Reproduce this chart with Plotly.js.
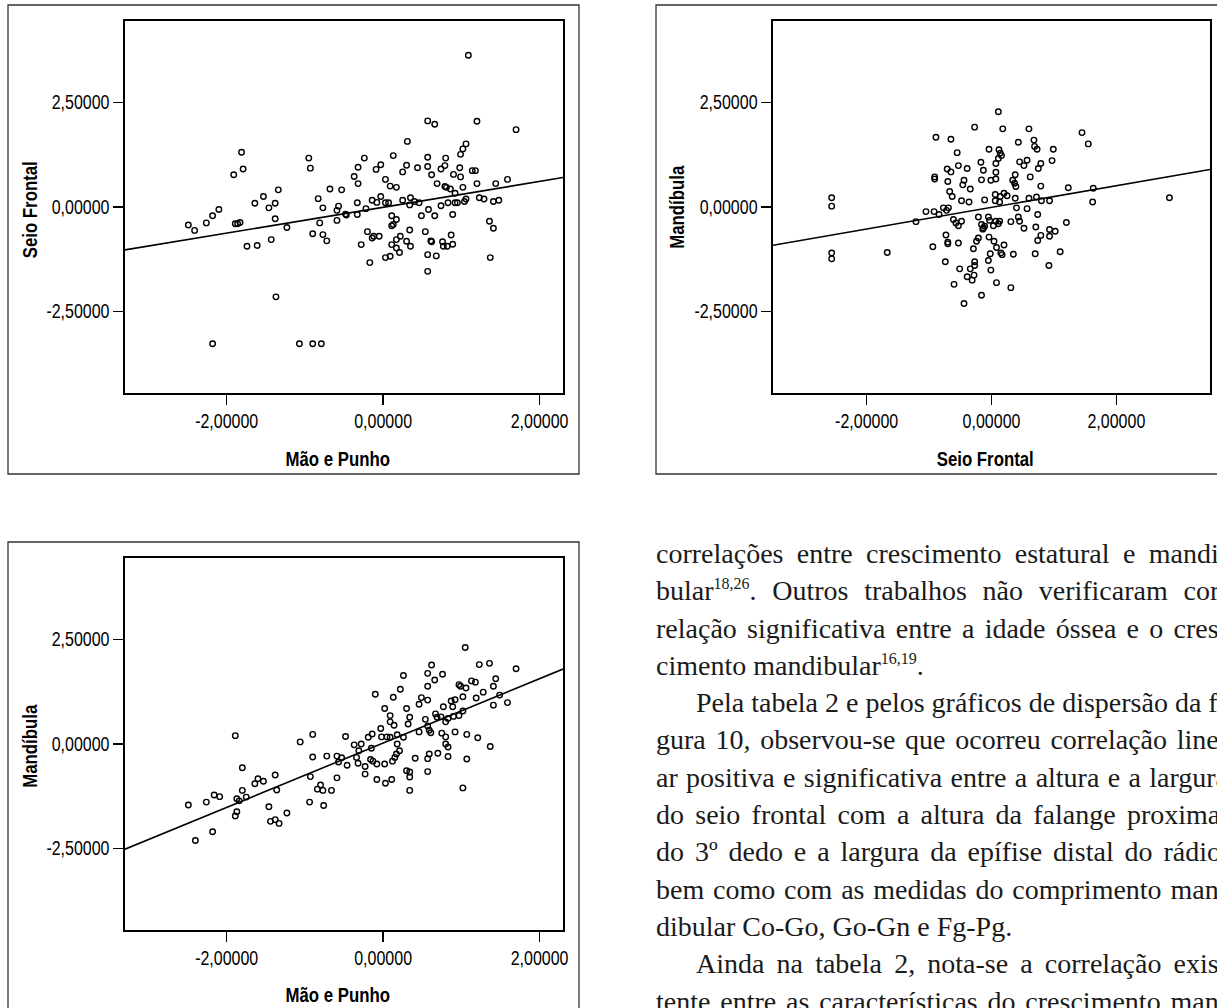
<!DOCTYPE html>
<html>
<head>
<meta charset="utf-8">
<script src="https://cdn.plot.ly/plotly-3.0.1.min.js"></script>
<style>
  html, body { margin: 0; padding: 0; background: #fff; }
  #wrap { position: relative; width: 1217px; height: 1008px; overflow: hidden; }
  #chart { position: absolute; left: 0; top: 0; width: 1217px; height: 1008px; }
  #text { position: absolute; left: 656px; top: 535px; width: 572px;
          font-family: 'Liberation Serif', 'DejaVu Serif', serif; font-size: 28px;
          line-height: 37.3px; color: #1a1a1a; }
  #text .ln { white-space: nowrap; text-align: justify; text-align-last: justify; height: 37.3px; }
  #text .ln.last { text-align-last: left; }
  #text .ln.ind { padding-left: 40px; }
  #text sup { font-size: 16px; line-height: 0; vertical-align: 11px; }
</style>
</head>
<body>
<div id="wrap">
  <div id="chart"></div>
  <div id="text"></div>
</div>
<script>
// ---------------- DATA ----------------
// Plot 1: Mão e Punho (x) vs Seio Frontal (y)
const p1_maoPunho = [
  -1.81,-1.79,-1.91,-0.95,-0.93,-2.49,-2.41,-2.26,-2.18,-2.10,
  -1.89,-1.86,-1.83,-1.74,-1.61,-1.64,-1.53,-1.46,-1.38,-1.34,
  -1.38,-1.43,-1.23,-1.37,-2.18,-1.07,-0.90,-0.79,-0.90,-0.81,
  -0.77,-0.72,-0.83,-0.77,-0.68,-0.53,-0.57,-0.59,-0.59,-0.48,
  -0.47,
  1.09,0.57,0.66,1.20,1.70,0.31,1.06,1.02,0.99,-0.24,
  0.13,0.57,0.80,-0.32,-0.03,-0.09,0.30,0.25,0.44,0.57,
  0.74,0.79,0.98,1.14,1.18,-0.37,-0.32,0.03,0.09,0.17,
  0.62,0.69,0.90,0.99,0.79,0.81,0.86,0.92,1.02,1.20,
  1.44,1.59,
  -0.33,-0.33,-0.22,-0.14,-0.08,-0.03,0.03,0.07,0.25,0.34,
  0.35,0.40,0.46,0.58,0.74,0.83,0.92,0.95,1.04,1.06,
  1.23,1.29,1.41,1.48,0.49,0.66,0.89,0.11,0.17,0.11,
  0.13,1.36,1.41,-0.20,-0.14,-0.12,-0.05,-0.28,-0.17,0.03,
  0.09,0.11,0.17,0.22,0.17,0.21,0.34,0.30,0.35,0.54,
  0.61,0.62,0.57,0.68,0.57,0.76,0.77,0.82,0.89,0.87,
  1.37
];
const p1_seioFrontal = [
  1.31,0.91,0.77,1.17,0.93,-0.43,-0.56,-0.38,-0.21,-0.06,
  -0.40,-0.40,-0.37,-0.94,-0.92,0.09,0.25,-0.02,0.09,0.41,
  -0.28,-0.78,-0.49,-2.15,-3.27,-3.27,-3.27,-3.27,-0.64,-0.38,
  -0.66,-0.81,0.20,-0.02,0.43,0.41,0.02,-0.08,-0.32,-0.17,
  -0.19,
  3.63,2.06,1.98,2.05,1.85,1.57,1.51,1.39,1.26,1.17,
  1.23,1.19,1.17,0.95,1.01,0.90,1.00,0.84,0.94,0.97,
  0.91,0.99,0.94,0.87,0.87,0.73,0.56,0.66,0.50,0.47,
  0.77,0.56,0.78,0.72,0.49,0.47,0.43,0.33,0.47,0.56,
  0.56,0.66,
  0.10,-0.18,-0.04,0.16,0.11,0.25,0.10,0.10,0.16,0.05,
  0.22,0.13,0.10,-0.06,0.03,0.10,0.10,0.10,0.13,0.19,
  0.22,0.19,0.13,0.16,-0.21,-0.21,-0.18,-0.21,-0.30,-0.45,
  -0.42,-0.34,-0.51,-0.59,-0.74,-0.70,-0.70,-0.90,-1.33,-1.21,
  -1.18,-0.90,-0.78,-0.70,-0.98,-1.09,-0.55,-0.82,-0.94,-0.59,
  -0.81,-0.83,-1.14,-1.17,-1.54,-0.83,-0.94,-0.94,-0.89,-0.67,
  -1.21
];

// Plot 2: Seio Frontal (x) vs Mandíbula (y)
const p2_seioFrontal = [
  -2.56,-2.56,-2.56,-2.56,-1.67,-1.21,-1.05,-0.92,-0.94,-0.89,-0.91,-0.91,
  0.11,-0.27,0.18,0.60,-0.65,0.43,0.68,1.45,1.55,-0.04,
  0.12,0.14,0.16,0.11,0.69,0.73,0.99,-0.55,-0.17,-0.53,
  -0.39,-0.71,-0.65,-0.13,0.07,0.07,0.45,0.57,0.52,0.79,
  0.75,0.97,-0.70,-0.44,-0.46,-0.34,-0.16,-0.01,0.07,0.38,
  0.34,0.37,0.39,0.62,0.79,1.23,1.63,1.62,-0.67,-0.63,
  -0.48,-0.36,-0.11,0.06,0.06,0.14,0.20,0.25,0.13,0.38,
  0.60,0.72,0.80,0.93,-0.84,-0.77,-0.69,-0.72,0.40,0.57,
  -0.61,-0.57,-0.53,-0.48,-0.21,-0.05,-0.16,-0.14,-0.13,-0.11,
  -0.03,0.03,0.07,0.11,0.13,0.31,0.43,0.45,0.52,0.74,
  0.71,0.93,1.02,0.93,0.79,0.74,1.20,-0.73,-0.70,-0.70,
  -0.53,-0.21,-0.24,-0.29,-0.04,0.04,0.08,0.20,0.15,0.17,
  0.35,-0.02,-0.05,0.70,1.10,-0.74,-0.27,-0.27,-0.51,-0.34,
  -0.28,-0.39,-0.31,-0.01,0.92,-0.60,0.08,0.31,-0.16,-0.44,
  2.85
];
const p2_mandibula = [
  0.22,0.02,-1.10,-1.24,-1.09,-0.35,-0.11,-0.11,-0.95,1.67,0.72,0.67,
  2.28,1.91,1.87,1.87,1.62,1.55,1.60,1.78,1.51,1.38,
  1.37,1.29,1.23,1.16,1.45,1.38,1.38,1.30,1.07,0.99,
  0.92,0.91,0.84,0.88,1.04,0.83,1.08,1.12,0.99,1.04,
  0.92,1.11,0.61,0.64,0.53,0.43,0.65,0.64,0.67,0.77,
  0.64,0.57,0.49,0.72,0.50,0.46,0.45,0.12,0.37,0.25,
  0.15,0.12,0.17,0.30,0.15,0.25,0.33,0.27,0.12,0.21,
  0.21,0.24,0.15,0.15,-0.18,-0.02,-0.02,-0.08,-0.02,-0.04,
  -0.30,-0.38,-0.45,-0.34,-0.24,-0.24,-0.42,-0.53,-0.50,-0.46,
  -0.32,-0.45,-0.34,-0.40,-0.34,-0.35,-0.24,-0.34,-0.51,-0.18,
  -0.48,-0.54,-0.58,-0.70,-0.68,-0.80,-0.37,-0.67,-0.84,-0.88,
  -0.86,-0.74,-0.82,-1.00,-0.72,-0.82,-0.97,-0.91,-1.10,-1.14,
  -1.13,-1.12,-1.28,-1.12,-1.07,-1.31,-1.31,-1.40,-1.48,-1.48,
  -1.63,-1.67,-1.75,-1.51,-1.40,-1.85,-1.81,-1.93,-2.11,-2.31,
  0.22
];

// Plot 3: Mão e Punho (x) vs Mandíbula (y)
const p3_maoPunho = [
  -1.89,-0.90,-0.48,-1.06,-0.90,-0.72,-0.59,-0.53,-0.57,-0.46,
  -1.80,-0.93,-0.59,-1.60,-1.64,-1.53,-1.38,-1.36,-1.80,-1.87,
  -1.84,-1.75,-2.16,-2.09,-2.26,-2.49,-1.87,-1.89,-1.46,-1.23,
  -1.44,-1.38,-1.33,-2.18,-2.40,-0.94,-0.76,-0.84,-0.80,-0.77,
  -0.66,
  1.05,0.62,1.23,1.36,1.70,0.26,0.57,0.76,0.66,0.57,
  0.22,0.97,0.99,1.06,1.13,1.18,1.44,1.41,1.28,1.19,
  1.49,1.02,-0.10,0.13,0.49,0.57,0.46,0.87,0.92,0.77,
  0.89,1.41,1.59,0.02,0.30,0.09,0.34,0.14,0.09,0.32,
  0.54,0.67,0.69,0.74,0.80,0.83,0.90,0.97,1.02,0.57,
  0.59,0.61,0.46,-0.03,-0.14,-0.19,-0.02,0.05,0.09,0.18,
  0.26,0.75,0.80,0.92,1.07,1.21,1.37,-0.37,-0.28,-0.15,
  -0.31,0.18,0.21,0.17,0.15,0.12,0.80,0.83,0.70,0.83,
  0.59,0.57,0.41,1.07,-0.34,-0.32,-0.23,-0.16,-0.13,-0.08,
  0.02,-0.23,-0.08,0.03,0.11,0.30,0.34,0.34,0.57,0.34,
  1.02
];
const p3_mandibula = [
  0.20,0.23,0.18,0.05,-0.31,-0.29,-0.29,-0.33,-0.43,-0.51,
  -0.57,-0.78,-0.81,-0.83,-0.95,-0.89,-0.74,-1.10,-1.11,-1.31,
  -1.36,-1.27,-1.22,-1.26,-1.39,-1.46,-1.62,-1.72,-1.50,-1.65,
  -1.85,-1.81,-1.90,-2.10,-2.31,-1.39,-1.47,-1.08,-0.98,-1.11,
  -1.11,
  2.31,1.89,1.90,1.93,1.80,1.64,1.69,1.67,1.53,1.38,
  1.31,1.42,1.38,1.34,1.51,1.48,1.56,1.38,1.24,1.10,
  1.17,1.13,1.19,1.12,1.11,1.05,0.95,1.03,1.06,0.89,
  0.89,0.93,0.99,0.85,0.85,0.68,0.64,0.45,0.53,0.48,
  0.59,0.72,0.64,0.65,0.53,0.61,0.66,0.68,0.79,0.43,
  0.33,0.27,0.29,0.37,0.24,0.16,0.17,0.17,0.16,0.22,
  0.16,0.26,0.17,0.29,0.23,0.15,-0.06,-0.02,0.00,-0.10,
  -0.16,0.00,-0.16,-0.24,-0.32,-0.41,0.00,-0.07,-0.22,-0.30,
  -0.24,-0.35,-0.34,-0.36,-0.32,-0.46,-0.54,-0.37,-0.41,-0.48,
  -0.48,-0.72,-0.85,-0.94,-0.85,-0.64,-0.67,-0.79,-0.66,-1.11,
  -1.05
];

// Tick values / labels
const xTickVals = [-2, 0, 2];
const xTickText = ['-2,00000', '0,00000', '2,00000'];
const yTickVals = [-2.5, 0, 2.5];
const yTickText = ['-2,50000', '0,00000', '2,50000'];

// Axis titles
const titleMaoPunho = 'Mão e Punho';
const titleSeioFrontal = 'Seio Frontal';
const titleMandibula = 'Mandíbula';

// Paragraph lines (as printed)
const textLines = [
  ['correlações entre crescimento estatural e mandi-', ''],
  ['bular<sup>18,26</sup>. Outros trabalhos não verificaram cor-', ''],
  ['relação significativa entre a idade óssea e o cres-', ''],
  ['cimento mandibular<sup>16,19</sup>.', 'last'],
  ['Pela tabela 2 e pelos gráficos de dispersão da fi-', 'ind'],
  ['gura 10, observou-se que ocorreu correlação line-', ''],
  ['ar positiva e significativa entre a altura e a largura', ''],
  ['do seio frontal com a altura da falange proximal', ''],
  ['do 3º dedo e a largura da epífise distal do rádio,', ''],
  ['bem como com as medidas do comprimento man-', ''],
  ['dibular Co-Go, Go-Gn e Fg-Pg.', 'last'],
  ['Ainda na tabela 2, nota-se a correlação exis-', 'ind'],
  ['tente entre as características do crescimento man-', '']
];

// ---------------- BUILD ----------------
const W = 1217, H = 1008;
const px = p => p / W;
const py = p => 1 - p / H;

function linFit(xs, ys) {
  const n = xs.length;
  let mx = 0, my = 0;
  for (let i = 0; i < n; i++) { mx += xs[i]; my += ys[i]; }
  mx /= n; my /= n;
  let sxy = 0, sxx = 0;
  for (let i = 0; i < n; i++) { sxy += (xs[i]-mx)*(ys[i]-my); sxx += (xs[i]-mx)*(xs[i]-mx); }
  const b = sxy / sxx;
  return { a: my - b * mx, b: b };
}

const xRange13 = [-3.3, 2.3];
const xRange2 = [-3.5, 3.5];
const yRange = [-4.45, 4.45];

const marker = { symbol: 'circle-open', size: 5.5, color: '#000', line: { width: 1.4, color: '#000' } };

function scatter(xs, ys, xa, ya) {
  return { type: 'scatter', mode: 'markers', x: xs, y: ys, xaxis: xa, yaxis: ya,
           marker: marker, hoverinfo: 'skip', cliponaxis: true };
}
function fitLine(xs, ys, range, xa, ya) {
  const f = linFit(xs, ys);
  return { type: 'scatter', mode: 'lines', x: [range[0], range[1]],
           y: [f.a + f.b * range[0], f.a + f.b * range[1]],
           xaxis: xa, yaxis: ya, line: { color: '#000', width: 1.6 }, hoverinfo: 'skip' };
}

const data = [
  scatter(p1_maoPunho, p1_seioFrontal, 'x', 'y'),
  fitLine(p1_maoPunho, p1_seioFrontal, xRange13, 'x', 'y'),
  scatter(p2_seioFrontal, p2_mandibula, 'x2', 'y2'),
  fitLine(p2_seioFrontal, p2_mandibula, xRange2, 'x2', 'y2'),
  scatter(p3_maoPunho, p3_mandibula, 'x3', 'y3'),
  fitLine(p3_maoPunho, p3_mandibula, xRange13, 'x3', 'y3')
];

// Arial-Narrow look: Liberation Sans (Arial metrics) condensed to 82% after drawing
const sansFam = "'Liberation Sans', Arial, sans-serif";
const NARROW = 0.82;
const tickFont = { family: sansFam, size: 19.5, color: '#000' };
const titleFont = { family: sansFam, size: 20.5, color: '#000' };

function axisBase(extra) {
  return Object.assign({
    showline: true, mirror: true, linecolor: '#000', linewidth: 1.6,
    ticks: 'outside', ticklen: 10, tickwidth: 1.6, tickcolor: '#000',
    showgrid: false, zeroline: false, tickfont: tickFont, fixedrange: true,
    tickmode: 'array'
  }, extra);
}

function title(txt, x, y, angle) {
  return { text: '<b>' + txt + '</b>', xref: 'paper', yref: 'paper', x: px(x), y: py(y),
           xanchor: 'center', yanchor: 'middle', showarrow: false, textangle: angle || 0, font: titleFont };
}

const layout = {
  width: W, height: H,
  margin: { l: 0, r: 0, t: 0, b: 0, pad: 0 },
  paper_bgcolor: '#fff', plot_bgcolor: '#fff',
  showlegend: false,
  xaxis:  axisBase({ domain: [px(125), px(563)], range: xRange13, anchor: 'y',  tickvals: xTickVals, ticktext: xTickText }),
  yaxis:  axisBase({ domain: [py(393), py(21)],  range: yRange,    anchor: 'x',  tickvals: yTickVals, ticktext: yTickText }),
  xaxis2: axisBase({ domain: [px(773), px(1210)], range: xRange2,  anchor: 'y2', tickvals: xTickVals, ticktext: xTickText }),
  yaxis2: axisBase({ domain: [py(393), py(21)],  range: yRange,    anchor: 'x2', tickvals: yTickVals, ticktext: yTickText }),
  xaxis3: axisBase({ domain: [px(125), px(563)], range: xRange13, anchor: 'y3', tickvals: xTickVals, ticktext: xTickText }),
  yaxis3: axisBase({ domain: [py(930), py(558)], range: yRange,    anchor: 'x3', tickvals: yTickVals, ticktext: yTickText }),
  shapes: [
    { type: 'rect', xref: 'paper', yref: 'paper', x0: px(8),   x1: px(579),  y0: py(474),  y1: py(5),   line: { color: '#333', width: 1.3 } },
    { type: 'rect', xref: 'paper', yref: 'paper', x0: px(656), x1: px(1228), y0: py(474),  y1: py(5),   line: { color: '#333', width: 1.3 } },
    { type: 'rect', xref: 'paper', yref: 'paper', x0: px(8),   x1: px(579),  y0: py(1015), y1: py(542), line: { color: '#333', width: 1.3 } }
  ],
  annotations: [
    title(titleMaoPunho, 338, 459),
    title(titleSeioFrontal, 985, 459),
    title(titleMaoPunho, 338, 994),
    title(titleSeioFrontal, 29, 210, -90),
    title(titleMandibula, 677, 207, -90),
    title(titleMandibula, 29, 746, -90)
  ]
};

function condense(gd) {
  const sel = ['x', 'y', 'x2', 'y2', 'x3', 'y3'].map(function (a) { return '.' + a + 'tick text'; }).join(', ') + ', .annotation-text';
  gd.querySelectorAll(sel).forEach(function (t) {
    const bb = t.getBBox();
    const anchor = t.getAttribute('text-anchor') || 'start';
    const cx = anchor === 'middle' ? bb.x + bb.width / 2 : (anchor === 'end' ? bb.x + bb.width : bb.x);
    const old = t.getAttribute('transform') || '';
    t.setAttribute('transform', old + ' translate(' + cx + ',0) scale(' + NARROW + ',1) translate(' + (-cx) + ',0)');
  });
}

Plotly.newPlot('chart', data, layout, { staticPlot: true, displayModeBar: false })
  .then(function (gd) { condense(gd); });

// Paragraph text
const tdiv = document.getElementById('text');
textLines.forEach(function (l) {
  const d = document.createElement('div');
  d.className = 'ln' + (l[1] ? ' ' + l[1] : '');
  d.innerHTML = l[0];
  tdiv.appendChild(d);
});
</script>
</body>
</html>
